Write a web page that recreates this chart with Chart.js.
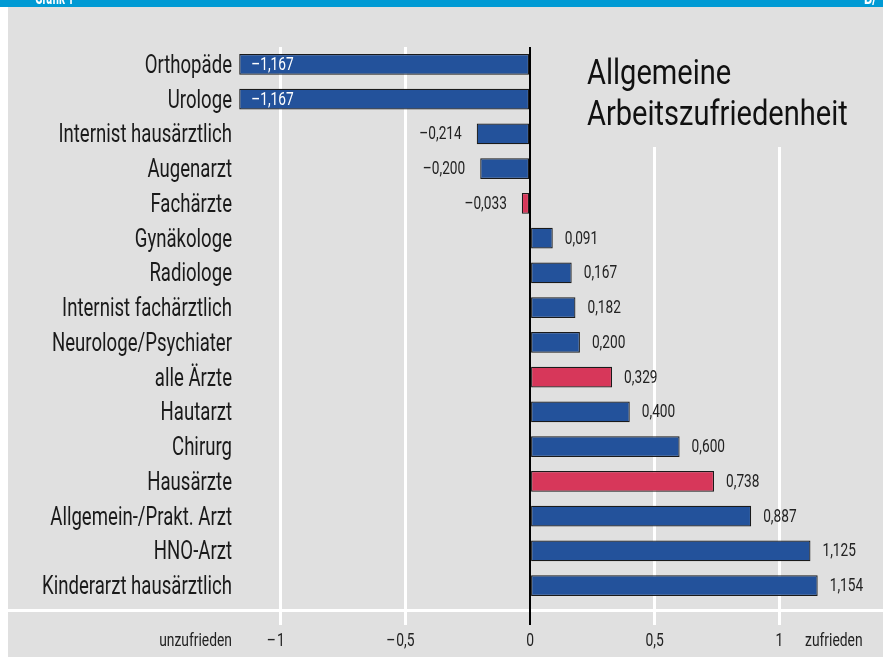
<!DOCTYPE html>
<html>
<head>
<meta charset="utf-8">
<script src="https://cdn.jsdelivr.net/npm/chart.js@4/dist/chart.umd.min.js"></script>
<style>
  body { margin: 0; background: #fff; }
  #wrap { width: 883px; height: 657px; }
</style>
</head>
<body>
<div id="wrap"><canvas id="chart" width="883" height="657"></canvas></div>
<script>
const FONT = "Roboto, sans-serif";

// data
const categories = [
    "Orthopäde", "Urologe", "Internist hausärztlich", "Augenarzt", "Fachärzte",
    "Gynäkologe", "Radiologe", "Internist fachärztlich", "Neurologe/Psychiater",
    "alle Ärzte", "Hautarzt", "Chirurg", "Hausärzte", "Allgemein-/Prakt. Arzt",
    "HNO-Arzt", "Kinderarzt hausärztlich"
];
const values = [-1.167, -1.167, -0.214, -0.200, -0.033, 0.091, 0.167, 0.182, 0.200,
    0.329, 0.400, 0.600, 0.738, 0.887, 1.125, 1.154];
const highlighted = ["Fachärzte", "alle Ärzte", "Hausärzte"];
const xTicks = [-1, -0.5, 0, 0.5, 1];
const xTickLabels = ["–1", "–0,5", "0", "0,5", "1"];
const titleLines = ["Allgemeine", "Arbeitszufriedenheit"];

const BLUE = "#23529b";
const RED = "#d7375a";
const GRAY = "#e0e0e0";

function fmt(v) {
    const s = Math.abs(v).toFixed(3).replace(".", ",");
    return v < 0 ? "–" + s : s;
}

// the original uses a condensed face, so squeeze the text horizontally
function ctext(c, str, x, y, align, sx) {
    c.save();
    c.translate(x, y);
    c.scale(sx, 1);
    c.textAlign = align;
    c.fillText(str, 0, 0);
    c.restore();
}

const backdrop = {
    id: "backdrop",
    beforeDraw(chart) {
        const c = chart.ctx;
        c.save();
        c.fillStyle = "#fff";
        c.fillRect(0, 0, chart.width, chart.height);
        c.fillStyle = GRAY;
        c.fillRect(8, 7, chart.width - 8, chart.height - 7);
        c.fillStyle = "#009ad4";
        c.fillRect(0, 0, chart.width, 7);
        c.fillStyle = "#fff";
        c.font = "bold 20px " + FONT;
        c.textBaseline = "alphabetic";
        ctext(c, "Grafik 1", 35, 4, "left", 0.55);
        ctext(c, "B/", 877, 4, "right", 0.65);
        // horizontal rule above the tick labels
        c.strokeStyle = "#fff";
        c.lineWidth = 3;
        c.beginPath();
        c.moveTo(8, 610.5);
        c.lineTo(chart.width, 610.5);
        c.stroke();
        c.restore();
    },
    beforeDatasetsDraw(chart) {
        const c = chart.ctx;
        c.save();
        // title box hides the grid behind the title
        c.fillStyle = GRAY;
        c.fillRect(560, 45, 323, 102);
        c.restore();
    },
    afterDraw(chart) {
        const c = chart.ctx;
        const xs = chart.scales.x;
        const ys = chart.scales.y;
        c.save();
        // title
        c.fillStyle = "#111";
        c.font = "35px " + FONT;
        c.textBaseline = "alphabetic";
        ctext(c, titleLines[0], 587, 84, "left", 0.83);
        ctext(c, titleLines[1], 587, 125, "left", 0.83);

        // category labels
        c.fillStyle = "#1a1a1a";
        c.font = "26px " + FONT;
        c.textBaseline = "middle";
        ys.ticks.forEach((t, i) => {
            ctext(c, chart.data.labels[i], 232, ys.getPixelForTick(i) + 2, "right", 0.715);
        });

        // x tick labels: the digits sit on the grid line, the minus hangs left
        c.font = "18px " + FONT;
        c.fillStyle = "#222";
        c.textBaseline = "alphabetic";
        const sx = 0.77;
        xTicks.forEach((v, i) => {
            const px = xs.getPixelForValue(v);
            const lab = xTickLabels[i];
            const neg = lab.startsWith("–");
            const num = neg ? lab.slice(1) : lab;
            const w = c.measureText(num).width * sx;
            ctext(c, num, px - w / 2, 646, "left", sx);
            if (neg) ctext(c, "–", px - w / 2 - 1, 646, "right", sx);
        });
        ctext(c, "unzufrieden", 232, 646, "right", sx);
        ctext(c, "zufrieden", 805, 646, "left", sx);

        // value labels
        const meta = chart.getDatasetMeta(0);
        c.font = "18px " + FONT;
        c.textBaseline = "middle";
        meta.data.forEach((bar, i) => {
            const v = values[i];
            if (v < -1) {
                c.fillStyle = "#fff";
                ctext(c, fmt(v), bar.x + 12, bar.y + 1, "left", 0.76);
            } else if (v < 0) {
                c.fillStyle = "#222";
                ctext(c, fmt(v), bar.x - 15, bar.y + 1, "right", 0.76);
            } else {
                c.fillStyle = "#222";
                ctext(c, fmt(v), bar.x + 12, bar.y + 1, "left", 0.76);
            }
        });
        c.restore();
    }
};

new Chart(document.getElementById("chart"), {
    type: "bar",
    data: {
        labels: categories,
        datasets: [{
            data: values,
            backgroundColor: categories.map(c => highlighted.includes(c) ? RED : BLUE),
            borderColor: "#1a1a1a",
            borderWidth: 1.2,
            borderSkipped: false,
            barPercentage: 0.6,
            categoryPercentage: 1
        }]
    },
    options: {
        indexAxis: "y",
        responsive: false,
        animation: false,
        layout: { padding: { left: 5, right: 4, top: 47, bottom: 4 } },
        plugins: {
            legend: { display: false },
            tooltip: { enabled: false }
        },
        scales: {
            x: {
                min: -1.2,
                max: 1.4,
                afterBuildTicks(scale) {
                    scale.ticks = xTicks.map(v => ({ value: v }));
                },
                afterFit(scale) { scale.height = 50; },
                border: { display: false },
                grid: {
                    color: ctx => ctx.tick && ctx.tick.value === 0 ? "#000" : "#fff",
                    lineWidth: ctx => ctx.tick && ctx.tick.value === 0 ? 2 : 3,
                    tickLength: 22,
                    drawTicks: true
                },
                ticks: { display: false }
            },
            y: {
                afterFit(scale) { scale.width = 226; },
                border: { display: false },
                grid: { display: false },
                ticks: { display: false }
            }
        }
    },
    plugins: [backdrop]
});
</script>
</body>
</html>
